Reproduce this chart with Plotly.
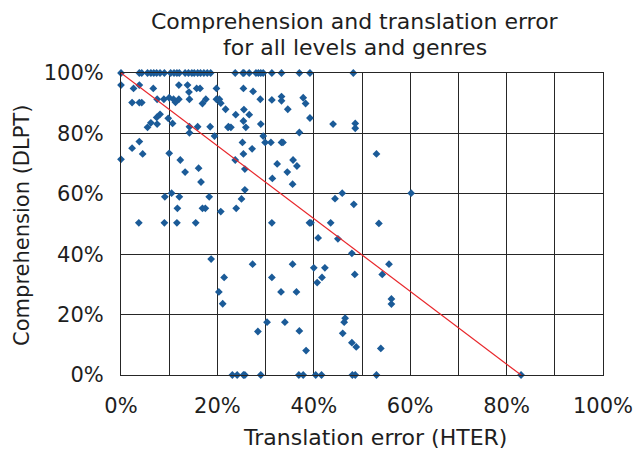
import plotly.graph_objects as go

# Translation error (HTER, %) and comprehension (DLPT, %) per item
hter = [
    0, 3.8, 4.3, 5.5, 6.2, 6.8, 7.4, 8.1, 9.0, 10.3, 11.0, 11.6, 12.1, 13.3, 14.0,
    14.7, 15.2, 15.9, 16.5, 17.2, 17.9, 18.6, 23.7, 25.3, 25.5, 26.6, 28.0, 28.5,
    29.0, 29.5, 31.3, 33.3, 37.0, 39.2, 48.2,
    0, 2.6, 3.8, 6.7, 12.0, 13.8, 14.1, 15.7, 16.4, 19.8, 2.3, 3.8, 4.3, 7.5, 8.9,
    10.0, 10.9, 12.0, 11.3, 14.2, 16.9, 17.6, 19.8, 20.4, 20.7, 21.7, 9.8, 10.7,
    8.1, 7.4, 6.2, 5.5, 7.5, 14.2, 14.2, 15.9, 18.5, 19.4, 22.3, 2.3, 3.8, 4.5, 0,
    10.0, 12.3, 16.1,
    25.4, 27.4, 28.9, 31.3, 33.3, 33.3, 37.8, 38.3, 34.6, 23.8, 25.5, 26.6, 25.4,
    29.0, 39.2, 44.0, 22.2, 22.8, 25.9, 37.0, 29.5, 25.2, 29.9, 31.1, 33.3, 33.6,
    27.2, 25.4, 23.7, 25.7, 35.7, 36.5, 32.4, 48.6, 48.6, 53.0,
    13.3, 16.6, 10.5, 9.1, 12.1, 18.3, 11.7, 16.9, 17.5, 20.7, 3.7, 9.0, 11.6, 15.5,
    18.7,
    34.5, 31.4, 35.6, 25.7, 25.0, 23.9, 31.3, 39.1, 39.4, 43.5, 44.4, 45.9, 40.9,
    45.0, 27.3, 35.6, 40.0, 42.3,
    60.2, 48.3, 53.5, 47.9, 55.6,
    21.4, 20.3, 21.1, 31.3, 41.7, 40.7, 33.2, 36.4, 30.3, 34.0, 28.4, 37.0, 38.4,
    46.5, 46.3, 46.0,
    23.1, 24.1, 25.4, 25.7, 29.0, 36.9, 37.8, 40.4, 41.6,
    48.5, 54.2, 56.1, 56.1, 47.9, 48.8, 53.9, 48.0, 48.6, 53.0, 83.0,
]
dlpt = [
    100, 100, 100, 100, 100, 100, 100, 100, 100, 100, 100, 100, 100, 100, 100,
    100, 100, 100, 100, 100, 100, 100, 100, 100, 100, 100, 100, 100,
    100, 100, 100, 100, 100, 100, 100,
    96.0, 94.9, 96.0, 94.9, 96.0, 96.0, 93.7, 94.9, 94.9, 94.9, 90.2, 90.2, 90.2, 91.3, 91.3,
    91.8, 91.3, 91.3, 90.3, 91.3, 89.9, 91.3, 91.3, 91.3, 90.0, 88.0, 85.0, 83.3,
    86.3, 85.3, 83.5, 82.0, 83.1, 82.2, 80.2, 82.2, 82.2, 79.1, 82.2, 75.1, 77.3, 73.2, 71.4,
    73.4, 71.2, 68.5,
    94.9, 93.9, 91.3, 91.1, 92.2, 90.8, 91.8, 89.9, 88.0, 86.2, 87.9, 86.2, 84.1,
    83.1, 85.1, 83.1, 82.0, 82.0, 82.0, 80.3, 79.1, 77.0, 77.0, 77.0, 77.0, 77.0,
    74.9, 73.2, 71.2, 68.2, 71.2, 69.2, 69.9, 83.3, 81.7, 73.2,
    67.2, 63.9, 60.2, 59.0, 59.0, 59.0, 55.2, 55.2, 55.2, 54.1, 50.4, 50.4, 50.4, 50.4,
    38.4,
    67.2, 65.1, 63.2, 61.3, 58.3, 55.2, 50.4, 50.4, 50.4, 50.4, 58.4, 60.2, 45.4,
    45.1, 36.7, 36.7, 35.5, 35.5,
    60.2, 56.5, 50.2, 40.3, 36.7,
    32.3, 27.5, 23.6, 32.3, 32.3, 30.6, 27.5, 27.5, 17.5, 17.5, 14.4, 14.6, 8.1,
    18.8, 17.5, 13.8,
    0, 0, 0, 0, 0, 0, 0, 0, 0,
    33.3, 33.3, 25.2, 23.5, 10.7, 9.3, 8.8, 0, 0, 0, 0,
]

# Trend line end points
trend_x = [0, 83]
trend_y = [100, 0]

tick_vals = [0, 20, 40, 60, 80, 100]
tick_text = [f"{v}%" for v in tick_vals]

FONT = "DejaVu Sans"
GRID = "#262626"
TEXT = "#1e1e1e"

fig = go.Figure()
fig.add_trace(go.Scatter(
    x=hter, y=dlpt, mode="markers",
    marker=dict(symbol="diamond", size=6, color="#1b5b98"),
    cliponaxis=False, showlegend=False,
))
fig.add_trace(go.Scatter(
    x=trend_x, y=trend_y, mode="lines",
    line=dict(color="#e8262a", width=1.2),
    showlegend=False,
))

fig.update_layout(
    width=634, height=453,
    margin=dict(l=121, r=31, t=73, b=78),
    paper_bgcolor="white", plot_bgcolor="white",
    font=dict(family=FONT, color=TEXT, size=20),
)

# Titles as annotations for precise placement
annotations = [
    dict(text="Comprehension and translation error", x=0.4855, y=1.169, size=22),
    dict(text="for all levels and genres", x=0.4855, y=1.085, size=22),
    dict(text="Translation error (HTER)", x=0.527, y=-0.2086, size=22),
    dict(text="Comprehension (DLPT)", x=-0.2054, y=0.497, size=21, textangle=-90),
]
for a in annotations:
    size = a.pop("size")
    fig.add_annotation(xref="paper", yref="paper", showarrow=False,
                       xanchor="center", yanchor="middle",
                       font=dict(size=size), **a)

fig.update_xaxes(
    range=[0, 100], tickmode="array", tickvals=tick_vals, ticktext=tick_text,
    showgrid=True, gridcolor=GRID, gridwidth=1,
    minor=dict(dtick=10, showgrid=True, gridcolor=GRID, gridwidth=1),
    showline=True, linecolor=GRID, mirror=True, zeroline=False,
    ticks="", ticklabelstandoff=12, automargin=False,
    tickfont=dict(size=21),
)
fig.update_yaxes(
    range=[0, 100], tickmode="array", tickvals=tick_vals, ticktext=tick_text,
    showgrid=True, gridcolor=GRID, gridwidth=1,
    showline=True, linecolor=GRID, mirror=True, zeroline=False,
    ticks="", ticklabelstandoff=12, automargin=False,
    tickfont=dict(size=21),
)

# drop the default page margin so the figure sits at the window's top-left
fig.write_html("out.html", config={"displayModeBar": False},
               post_script="document.body.style.margin='0';")
